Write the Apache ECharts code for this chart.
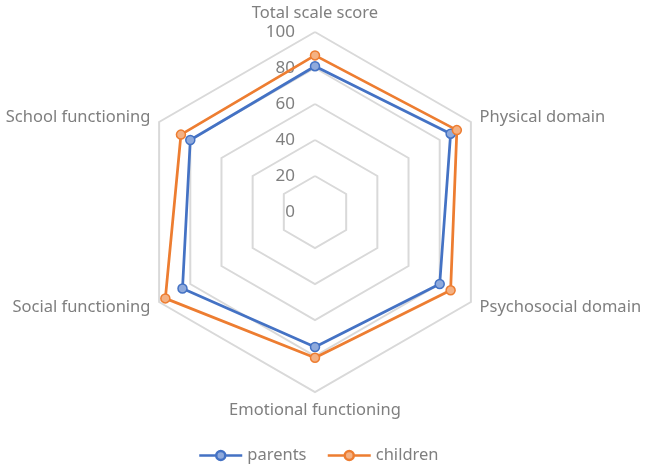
<!DOCTYPE html>
<html>
<head>
<meta charset="utf-8">
<script src="https://cdn.jsdelivr.net/npm/echarts@6/dist/echarts.min.js"></script>
<style>
html,body{margin:0;padding:0;background:#fff;}
#chart{width:645px;height:466px;}
</style>
</head>
<body>
<div id="chart"></div>
<script>
// Categories in clockwise order as shown in the reference (starting at top)
var categories = ['Total scale score', 'Physical domain', 'Psychosocial domain', 'Emotional functioning', 'Social functioning', 'School functioning'];
var parents  = [81, 87, 80, 75, 85, 80];
var children = [87, 91, 87, 81, 96, 86];
var axisMax = 100;
var seriesNames = ['parents', 'children'];

// ECharts places radar indicators counter-clockwise; reorder to get clockwise layout
function toCCW(arr) {
  var out = [arr[0]];
  for (var i = arr.length - 1; i >= 1; i--) out.push(arr[i]);
  return out;
}
var indCats = toCCW(categories);
var indicator = indCats.map(function (n, i) {
  var o = { name: n, min: 0, max: axisMax };
  if (i === 0) o.axisLabel = { show: true };
  return o;
});

var FONT = '"Noto Sans", sans-serif';
var chart = echarts.init(document.getElementById('chart'));

function legendIcon() {
  return 'path://M0,5.5 L17,5.5 M26,5.5 L43,5.5 M17,5.5 a4.5,4.5 0 1,0 9,0 a4.5,4.5 0 1,0 -9,0 Z';
}

chart.setOption({
  animation: false,
  legend: {
    top: 442,
    left: 193,
    itemWidth: 43,
    itemHeight: 9,
    itemGap: 20,
    textStyle: { color: '#7f7f7f', fontSize: 16.5, fontFamily: FONT },
    data: [
      { name: seriesNames[0], icon: legendIcon(), itemStyle: { color: '#8faadc', borderColor: '#4472C4', borderWidth: 2.5 } },
      { name: seriesNames[1], icon: legendIcon(), itemStyle: { color: '#f4b183', borderColor: '#ED7D31', borderWidth: 2.5 } }
    ]
  },
  radar: {
    center: [315, 212],
    radius: 180,
    startAngle: 90,
    splitNumber: 5,
    shape: 'polygon',
    nameGap: 10,
    axisName: { color: '#7f7f7f', fontSize: 16.5, fontFamily: FONT },
    axisLine: { show: false },
    axisTick: { show: false },
    axisLabel: { show: false, color: '#7f7f7f', fontSize: 17, fontFamily: FONT, margin: 20 },
    splitLine: { lineStyle: { color: '#d9d9d9', width: 2 } },
    splitArea: { show: false },
    indicator: indicator
  },
  series: [{
    type: 'radar',
    symbol: 'circle',
    symbolSize: 9,
    data: [
      {
        name: seriesNames[0],
        value: toCCW(parents),
        lineStyle: { color: '#4472C4', width: 2.75 },
        itemStyle: { color: '#8faadc', borderColor: '#4472C4', borderWidth: 1.5 }
      },
      {
        name: seriesNames[1],
        value: toCCW(children),
        lineStyle: { color: '#ED7D31', width: 2.75 },
        itemStyle: { color: '#f4b183', borderColor: '#ED7D31', borderWidth: 1.5 }
      }
    ]
  }]
});
</script>
</body>
</html>
